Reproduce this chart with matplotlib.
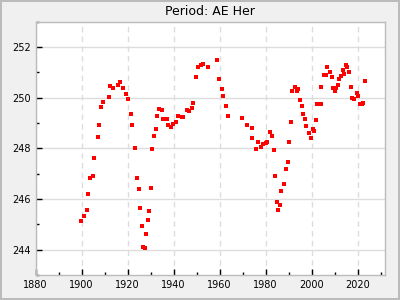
import matplotlib
matplotlib.use("Agg")
import matplotlib.pyplot as plt
from matplotlib.ticker import MultipleLocator

years = [1899.6, 1900.9, 1902.2, 1902.6, 1903.5, 1904.8, 1905.2, 1907.0, 1907.4, 1908.6,
         1909.4, 1911.7, 1912.2, 1913.5, 1915.7, 1916.5, 1917.8, 1919.1, 1920.0, 1921.3,
         1921.7, 1923.0, 1923.9, 1924.8, 1925.2, 1926.1, 1926.5, 1927.4, 1927.8, 1928.7,
         1929.1, 1930.0, 1930.4, 1931.3, 1932.2, 1932.6, 1933.5, 1934.8, 1935.2, 1937.0,
         1937.4, 1938.7, 1939.6, 1940.9, 1941.7, 1943.5, 1944.3, 1945.7, 1946.5, 1947.8,
         1948.3, 1949.6, 1950.4, 1951.7, 1952.6, 1954.8, 1958.7, 1959.6, 1960.9, 1961.3,
         1962.6, 1963.5, 1969.6, 1971.7, 1973.9, 1974.3, 1975.7, 1976.5, 1977.8, 1978.7,
         1980.0, 1980.4, 1981.7, 1982.6, 1983.5, 1983.9, 1984.8, 1985.2, 1986.1, 1986.5,
         1987.8, 1988.7, 1989.6, 1990.0, 1990.9, 1991.3, 1992.6, 1993.5, 1994.3, 1994.8,
         1995.7, 1996.1, 1997.0, 1997.4, 1998.7, 1999.6, 2000.4, 2000.9, 2001.7, 2002.2,
         2003.9, 2004.3, 2005.2, 2006.1, 2006.5, 2007.8, 2008.7, 2009.1, 2010.0, 2010.4,
         2011.3, 2011.7, 2012.6, 2013.5, 2013.9, 2014.8, 2015.2, 2016.1, 2017.0, 2017.4,
         2018.3, 2019.6, 2020.0, 2020.9, 2021.7, 2022.2, 2023.0]
periods = [245.14, 245.33, 245.57, 246.20, 246.82, 246.90, 247.61, 248.43, 248.94, 249.65,
           249.82, 250.04, 250.47, 250.39, 250.51, 250.63, 250.39, 250.16, 249.96, 249.37,
           248.94, 248.00, 246.82, 246.39, 245.65, 244.94, 244.12, 244.08, 244.63, 245.18,
           245.53, 246.43, 247.96, 248.47, 248.78, 249.29, 249.57, 249.53, 249.14, 249.14,
           248.94, 248.86, 248.98, 249.02, 249.29, 249.22, 249.22, 249.53, 249.49, 249.61,
           249.80, 250.82, 251.22, 251.29, 251.33, 251.22, 251.49, 250.75, 250.35, 250.08,
           249.69, 249.29, 249.18, 248.94, 248.82, 248.39, 247.96, 248.24, 248.04, 248.16,
           248.20, 248.27, 248.63, 248.47, 247.92, 246.90, 245.88, 245.57, 245.76, 246.31,
           246.59, 247.18, 247.45, 248.24, 249.02, 250.27, 250.43, 250.27, 250.35, 249.92,
           249.69, 249.37, 249.14, 248.90, 248.59, 248.39, 248.75, 248.67, 249.10, 249.76,
           249.76, 250.43, 250.90, 250.90, 251.22, 251.02, 250.82, 250.39, 250.27, 250.39,
           250.51, 250.75, 250.86, 251.10, 250.94, 251.29, 251.22, 251.02, 250.43, 250.00,
           249.96, 250.20, 250.08, 249.76, 249.73, 249.80, 250.67]

fig = plt.figure(figsize=(4, 3), dpi=100, facecolor="#f0f0f0",
                 edgecolor="#bbbbbb", linewidth=1.5)
ax = fig.add_axes([0.089, 0.083, 0.874, 0.845])
ax.set_facecolor("white")

ax.plot(years, periods, "s", color="red", markersize=3.3, markeredgewidth=0)

ax.set_xlim(1880, 2032)
ax.set_ylim(243, 253)
ax.xaxis.set_major_locator(MultipleLocator(20))
ax.xaxis.set_minor_locator(MultipleLocator(10))
ax.yaxis.set_major_locator(MultipleLocator(2))
ax.yaxis.set_minor_locator(MultipleLocator(1))
ax.tick_params(which="both", direction="in", labelsize=7, colors="black")
ax.tick_params(which="major", length=4, width=1)
ax.tick_params(which="minor", length=2.5, width=1)
ax.grid(axis="x", which="major", color="#dddddd", linestyle=(0, (4, 3)), linewidth=1)
ax.grid(axis="y", which="major", color="#dddddd", linestyle="-", linewidth=1)
ax.set_axisbelow(True)
for s in ax.spines.values():
    s.set_color("#bbbbbb")
    s.set_linewidth(1)

ax.set_title("Period: AE Her", fontsize=9, pad=5)

fig.savefig("out.png", dpi=100, facecolor=fig.get_facecolor(), edgecolor=fig.get_edgecolor())
